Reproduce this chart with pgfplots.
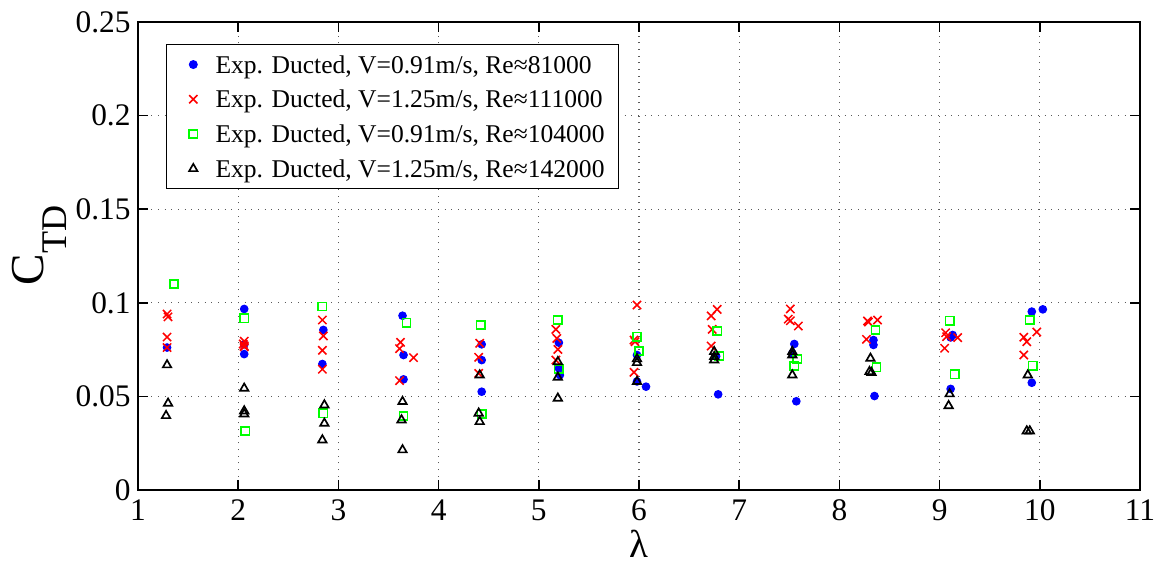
\documentclass[border=0pt]{standalone}
\usepackage{fontspec}
\setmainfont{Liberation Serif}
\usepackage{pgfplots}
\pgfplotsset{compat=1.18}

\definecolor{mblue}{rgb}{0,0,1}
\definecolor{mred}{rgb}{1,0,0}
\definecolor{mgreen}{rgb}{0,1,0}

% legend symbol: a single mark inside a fixed-width cell
\pgfplotsset{
  markleg/.style={legend image code/.code={%
    \path (0cm,0cm) (0.42cm,0cm);
    \draw[mark repeat=2,mark phase=2,##1] plot coordinates {(0cm,0cm) (0.22cm,0cm) (0.42cm,0cm)};}},
}

\begin{document}
\begin{tikzpicture}
\begin{axis}[
  name=ax,
  scale only axis,
  width=360.72pt, height=168.48pt,
  xmin=1, xmax=11, ymin=0, ymax=0.25,
  xtick={1,2,3,4,5,6,7,8,9,10,11},
  xticklabels={1,2,3,4,5,6,7,8,9,10,11},
  ytick={0,0.05,0.1,0.15,0.2,0.25},
  yticklabels={0,0.05,0.1,0.15,0.2,0.25},
  tick align=inside,
  major tick length=3.6pt,
  tick style={black, line width=0.6pt},
  axis line style={black, line width=0.8pt},
  grid=major,
  major grid style={dotted, black!65, line width=0.45pt},
  ticklabel style={font=\fontsize{11.3}{13}\selectfont},
  yticklabel style={inner xsep=2.5pt},
  xticklabel style={inner ysep=0.5pt, yshift=-2.8pt},
  xlabel={λ},
  xlabel style={at={(axis description cs:0.5,-0.114)}, anchor=center, inner sep=0pt,
                font=\fontsize{14}{16}\selectfont},
  ylabel={C\raisebox{-8.3pt}{\fontsize{13}{15}\selectfont TD}},
  ylabel style={at={(axis description cs:-0.0986,0.523)}, anchor=center,
                font=\fontsize{17}{20}\selectfont},
  legend cell align=left,
  legend style={at={(0.028,0.953)}, anchor=north west,
                draw=black, line width=0.5pt, fill=white,
                font=\fontsize{9.2}{11}\selectfont,
                inner xsep=3pt, inner ysep=2.8pt, row sep=3.8pt,
                nodes={text height=7.4pt, text depth=1.3pt, inner ysep=0pt}},
]

% V = 0.91 m/s, Re ~ 81000
\addplot[only marks, mark=*, mark size=1.35pt, color=mblue, fill=mblue, markleg]
  coordinates {
  (1.29,0.0761)
  (2.06,0.0967) (2.06,0.0778) (2.06,0.0726)
  (2.85,0.0855) (2.84,0.0673)
  (3.64,0.0931) (3.65,0.0721) (3.65,0.0591)
  (4.43,0.0778) (4.43,0.0694) (4.43,0.0525)
  (5.20,0.0787) (5.21,0.0614) (5.20,0.0650)
  (5.98,0.0721) (5.98,0.0580) (6.07,0.0552)
  (6.77,0.0715) (6.79,0.0511)
  (7.55,0.0780) (7.53,0.0730) (7.57,0.0474)
  (8.34,0.0801) (8.34,0.0775) (8.35,0.0502)
  (9.13,0.0828) (9.11,0.0815) (9.11,0.0540)
  (10.03,0.0965) (9.92,0.0953) (9.92,0.0573)
  };
\addlegendentry{Exp. Ducted, V=0.91m/s, Re≈81000}

% V = 1.25 m/s, Re ~ 111000
\addplot[only marks, mark=x, mark size=2.1pt, color=mred, line width=0.55pt, markleg]
  coordinates {
  (1.29,0.0940) (1.30,0.0925) (1.29,0.0817) (1.29,0.0761)
  (2.06,0.0795) (2.05,0.0780) (2.06,0.0770) (2.06,0.0765)
  (2.84,0.0908) (2.85,0.0823) (2.84,0.0746) (2.84,0.0645)
  (3.62,0.0789) (3.61,0.0755) (3.75,0.0707) (3.61,0.0584)
  (4.41,0.0784) (4.40,0.0709) (4.40,0.0623)
  (5.17,0.0858) (5.18,0.0810) (5.19,0.0751) (5.17,0.0694)
  (5.98,0.0988) (5.95,0.0801) (5.96,0.0792) (5.95,0.0629)
  (6.78,0.0965) (6.72,0.0930) (6.73,0.0858) (6.72,0.0769)
  (7.51,0.0967) (7.49,0.0913) (7.51,0.0904) (7.59,0.0876)
  (8.28,0.0903) (8.29,0.0897) (8.38,0.0908) (8.27,0.0805)
  (9.06,0.0840) (9.07,0.0819) (9.18,0.0814) (9.05,0.0757)
  (9.97,0.0844) (9.84,0.0816) (9.87,0.0792) (9.84,0.0721)
  };
\addlegendentry{Exp. Ducted, V=1.25m/s, Re≈111000}

% V = 0.91 m/s, Re ~ 104000
\addplot[only marks, mark=square, mark size=1.5pt, color=mgreen, line width=0.55pt, markleg]
  coordinates {
  (1.36,0.1100)
  (2.06,0.0917) (2.07,0.0315)
  (2.84,0.0980) (2.85,0.0410)
  (3.68,0.0894) (3.65,0.0395)
  (4.42,0.0881) (4.43,0.0406)
  (5.19,0.0908) (5.20,0.0646)
  (5.98,0.0819) (6.00,0.0743)
  (6.78,0.0849) (6.80,0.0716)
  (7.58,0.0700) (7.55,0.0662)
  (8.36,0.0855) (8.37,0.0655)
  (9.10,0.0904) (9.15,0.0618)
  (9.90,0.0908) (9.93,0.0664)
  };
\addlegendentry{Exp. Ducted, V=0.91m/s, Re≈104000}

% V = 1.25 m/s, Re ~ 142000
\addplot[only marks, mark=triangle, mark size=1.75pt, color=black, line width=0.6pt, markleg]
  coordinates {
  (1.29,0.0668) (1.30,0.0463) (1.28,0.0397)
  (2.06,0.0543) (2.06,0.0422) (2.06,0.0406)
  (2.86,0.0454) (2.86,0.0356) (2.84,0.0267)
  (3.64,0.0472) (3.63,0.0374) (3.64,0.0214)
  (4.41,0.0614) (4.40,0.0410) (4.41,0.0365)
  (5.19,0.0685) (5.19,0.0602) (5.19,0.0490)
  (5.98,0.0700) (5.98,0.0680) (5.98,0.0579)
  (6.75,0.0739) (6.75,0.0712) (6.75,0.0694)
  (7.53,0.0739) (7.53,0.0721) (7.53,0.0614)
  (8.31,0.0703) (8.30,0.0632) (8.32,0.0627)
  (9.10,0.0513) (9.09,0.0450)
  (9.88,0.0614) (9.87,0.0315) (9.90,0.0315)
  };
\addlegendentry{Exp. Ducted, V=1.25m/s, Re≈142000}

\end{axis}
\pgfresetboundingbox
\path[use as bounding box]
  ([xshift=-49.68pt,yshift=-27pt]ax.south west) rectangle
  ([xshift=9pt,yshift=7.92pt]ax.north east);
\end{tikzpicture}
\end{document}
